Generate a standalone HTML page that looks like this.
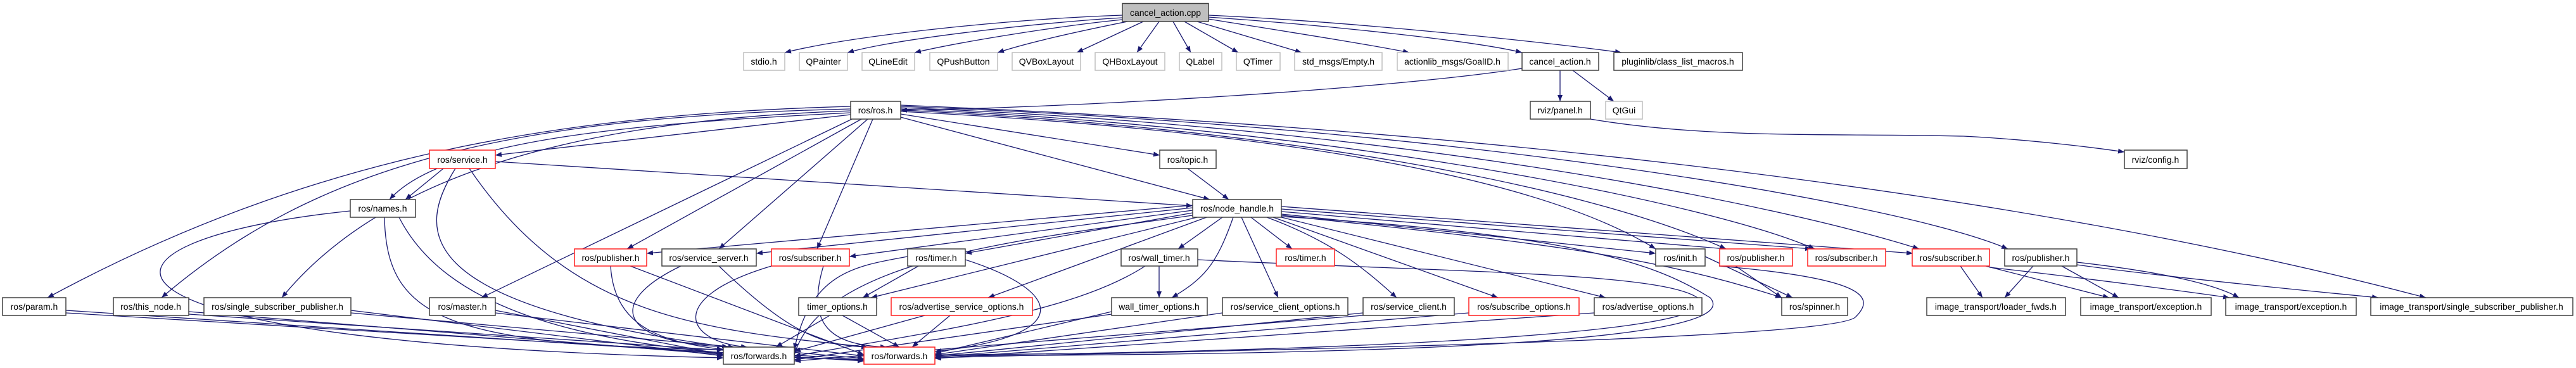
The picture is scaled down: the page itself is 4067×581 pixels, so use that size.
<!DOCTYPE html>
<html><head><meta charset="utf-8"><style>
html,body{margin:0;padding:0;background:#fff;}
svg{display:block;}
text{font-family:"Liberation Sans",sans-serif;font-size:14px;fill:#000;text-anchor:middle;}
.k{fill:#fff;stroke:#404040;stroke-width:1.5}
.g{fill:#fff;stroke:#bfbfbf;stroke-width:1.5}
.r{fill:#fff;stroke:#ff2020;stroke-width:1.5}
.e path{fill:none;stroke:#191970;stroke-width:1.3;marker-end:url(#a)}
</style></head><body>
<svg width="4067" height="581" viewBox="0 0 4067 581" xmlns="http://www.w3.org/2000/svg">
<defs><marker id="a" viewBox="0 0 10 8" refX="10" refY="4" markerWidth="10" markerHeight="8" markerUnits="userSpaceOnUse" orient="auto"><path d="M0,0 L10,4 L0,8 z" fill="#191970"/></marker></defs>
<g class="e">
<!-- cancel_action.cpp -->
<path d="M1772,24 C1600,30 1350,55 1239,83"/>
<path d="M1772,28 C1650,35 1420,60 1338,83"/>
<path d="M1772,31 C1680,40 1520,65 1444,83"/>
<path d="M1780,34 C1700,50 1620,68 1575,83"/>
<path d="M1805,34 L1700,83"/>
<path d="M1830,34 L1795,83"/>
<path d="M1852,34 L1880,83"/>
<path d="M1870,34 L1955,83"/>
<path d="M1890,34 L2055,83"/>
<path d="M1908,30 C2000,45 2150,68 2225,83"/>
<path d="M1908,27 C2100,40 2330,65 2403,83"/>
<path d="M1908,24 C2150,35 2450,68 2560,83"/>
<!-- cancel_action.h -->
<path d="M2403,108 C2200,140 1700,170 1422,174"/>
<path d="M2463,111 L2463,160"/>
<path d="M2483,111 L2548,160"/>
<path d="M2511,188 C2700,220 2900,210 3100,215 C3200,220 3300,232 3354,240"/>
<!-- ros/ros.h -->
<path d="M1343,168 C900,180 500,240 75,470"/>
<path d="M1343,172 C800,185 500,260 255,470"/>
<path d="M1343,175 C900,190 600,280 445,470"/>
<path d="M1343,178 C1000,195 700,220 615,315"/>
<path d="M1343,181 L782,245"/>
<path d="M1345,188 L760,470"/>
<path d="M1360,188 L990,393"/>
<path d="M1370,188 L1135,393"/>
<path d="M1378,188 L1290,393"/>
<path d="M1422,180 L1831,245"/>
<path d="M1422,185 L1910,315"/>
<path d="M1422,176 C1900,200 2400,260 2614,393"/>
<path d="M1422,174 C2000,200 2500,290 2725,393"/>
<path d="M1422,172 C2100,200 2700,320 2865,393"/>
<path d="M1422,170 C2200,200 2800,320 3030,393"/>
<path d="M1422,168 C2300,200 3000,320 3170,393"/>
<path d="M1422,166 C2500,210 3300,330 3830,470"/>
<!-- ros/service.h -->
<path d="M700,266 L640,315"/>
<path d="M782,255 L1883,325"/>
<path d="M719,266 C660,360 640,480 1150,548"/>
<path d="M741,266 C900,500 1100,520 1370,548"/>
<!-- names.h -->
<path d="M553,333 C100,380 60,540 1142,565"/>
<path d="M607,343 C610,500 700,545 1142,552"/>
<path d="M630,343 C700,480 900,560 1364,568"/>
<path d="M1875,266 L1940,315"/>
<!-- node_handle -->
<path d="M1883,324 L1021,400"/>
<path d="M1883,328 L1194,400"/>
<path d="M1883,332 L1341,405"/>
<path d="M1883,336 L1524,400"/>
<path d="M1890,343 L1375,470"/>
<path d="M1905,343 L1560,470"/>
<path d="M1930,343 L1860,393"/>
<path d="M1947,343 C1920,420 1900,440 1850,470"/>
<path d="M1975,343 L2040,393"/>
<path d="M1960,343 L2018,470"/>
<path d="M2000,343 C2100,380 2150,420 2205,470"/>
<path d="M2010,343 L2365,470"/>
<path d="M2023,343 L2535,470"/>
<path d="M2023,338 L2614,400"/>
<path d="M2023,334 L2725,393"/>
<path d="M2023,330 L2860,393"/>
<path d="M2023,326 L3020,400"/>
<path d="M2023,340 C2400,380 2600,400 2813,470"/>
<path d="M1883,340 C1600,380 1300,410 1254,560"/>
<path d="M2023,342 C2500,370 2620,420 2700,470 C2780,560 1800,560 1476,562"/>
<!-- row6 -->
<path d="M964,420 C970,520 1050,540 1142,552"/>
<path d="M995,420 L1364,560"/>
<path d="M1075,420 C950,480 980,545 1160,548"/>
<path d="M1135,420 C1250,530 1300,545 1370,548"/>
<path d="M1218,420 C1050,470 1080,540 1180,548"/>
<path d="M1300,420 C1270,520 1320,545 1400,548"/>
<path d="M1450,420 L1362,470"/>
<path d="M1433,405 C1350,420 1280,430 1254,552"/>
<path d="M1524,410 C1680,460 1700,530 1476,555"/>
<path d="M1830,420 L1830,470"/>
<path d="M1808,420 C1700,490 1500,520 1254,562"/>
<path d="M1891,410 C2300,430 2620,430 2680,470 C2760,540 1800,560 1476,560"/>
<path d="M2692,405 L2830,470"/>
<path d="M2714,420 C2950,440 2960,470 2930,500 C2900,540 1800,555 1476,565"/>
<path d="M2740,420 L2813,470"/>
<!-- subscriber / publisher to image_transport -->
<path d="M3095,420 L3130,470"/>
<path d="M3135,420 L3330,470"/>
<path d="M3141,422 C3300,440 3450,460 3520,470"/>
<path d="M3210,420 L3165,470"/>
<path d="M3255,420 L3345,470"/>
<path d="M3279,418 C3400,435 3600,455 3755,470"/>
<path d="M3279,414 C3420,430 3500,450 3535,470"/>
<!-- row7 to forwards -->
<path d="M104,490 L1142,558"/>
<path d="M104,494 L1364,570"/>
<path d="M298,492 L1142,560"/>
<path d="M298,496 L1364,568"/>
<path d="M554,490 L1142,562"/>
<path d="M554,494 L1364,566"/>
<path d="M782,490 L1142,560"/>
<path d="M782,494 L1364,562"/>
<path d="M1310,498 L1225,548"/>
<path d="M1330,498 L1420,548"/>
<path d="M1460,498 L1254,555"/>
<path d="M1500,498 L1440,548"/>
<path d="M1755,492 L1476,558"/>
<path d="M1755,496 L1254,568"/>
<path d="M1930,494 L1476,560"/>
<path d="M2152,494 L1476,562"/>
<path d="M2319,494 L1476,564"/>
<path d="M2517,494 L1476,566"/>
<path d="M2152,498 L1254,570"/>
</g>
<!-- nodes -->
<g>
<rect x="1772" y="5.5" width="136" height="28.5" fill="#bfbfbf" stroke="#404040" stroke-width="1.5"/><text x="1840" y="25">cancel_action.cpp</text>
<rect class="g" x="1174" y="83" width="65" height="28"/><text x="1206" y="102">stdio.h</text>
<rect class="g" x="1262" y="83" width="76" height="28"/><text x="1300" y="102">QPainter</text>
<rect class="g" x="1361" y="83" width="83" height="28"/><text x="1402" y="102">QLineEdit</text>
<rect class="g" x="1468" y="83" width="107" height="28"/><text x="1521" y="102">QPushButton</text>
<rect class="g" x="1598" y="83" width="108" height="28"/><text x="1652" y="102">QVBoxLayout</text>
<rect class="g" x="1729" y="83" width="110" height="28"/><text x="1784" y="102">QHBoxLayout</text>
<rect class="g" x="1862" y="83" width="67" height="28"/><text x="1895" y="102">QLabel</text>
<rect class="g" x="1952" y="83" width="69" height="28"/><text x="1986" y="102">QTimer</text>
<rect class="g" x="2044" y="83" width="138" height="28"/><text x="2113" y="102">std_msgs/Empty.h</text>
<rect class="g" x="2206" y="83" width="175" height="28"/><text x="2293" y="102">actionlib_msgs/GoalID.h</text>
<rect class="k" x="2403" y="83" width="121" height="28"/><text x="2463" y="102">cancel_action.h</text>
<rect class="k" x="2548" y="83" width="203" height="28"/><text x="2649" y="102">pluginlib/class_list_macros.h</text>
<rect class="k" x="1343" y="160" width="79" height="28"/><text x="1382" y="179">ros/ros.h</text>
<rect class="k" x="2416" y="160" width="95" height="28"/><text x="2463" y="179">rviz/panel.h</text>
<rect class="g" x="2535" y="160" width="58" height="28"/><text x="2564" y="179">QtGui</text>
<rect class="r" x="678" y="237" width="104" height="29"/><text x="730" y="257">ros/service.h</text>
<rect class="k" x="1831" y="237" width="89" height="29"/><text x="1875" y="257">ros/topic.h</text>
<rect class="k" x="3354" y="237" width="99" height="29"/><text x="3403" y="257">rviz/config.h</text>
<rect class="k" x="553" y="315" width="103" height="28"/><text x="604" y="334">ros/names.h</text>
<rect class="k" x="1883" y="315" width="140" height="28"/><text x="1953" y="334">ros/node_handle.h</text>
<rect class="r" x="907" y="393" width="114" height="27"/><text x="964" y="412">ros/publisher.h</text>
<rect class="k" x="1045" y="393" width="149" height="27"/><text x="1119" y="412">ros/service_server.h</text>
<rect class="r" x="1218" y="393" width="123" height="27"/><text x="1279" y="412">ros/subscriber.h</text>
<rect class="k" x="1433" y="393" width="91" height="27"/><text x="1478" y="412">ros/timer.h</text>
<rect class="k" x="1770" y="393" width="121" height="27"/><text x="1830" y="412">ros/wall_timer.h</text>
<rect class="r" x="2015" y="393" width="92" height="27"/><text x="2061" y="412">ros/timer.h</text>
<rect class="k" x="2614" y="393" width="78" height="27"/><text x="2653" y="412">ros/init.h</text>
<rect class="r" x="2715" y="393" width="115" height="27"/><text x="2772" y="412">ros/publisher.h</text>
<rect class="r" x="2854" y="393" width="123" height="27"/><text x="2915" y="412">ros/subscriber.h</text>
<rect class="r" x="3019" y="393" width="122" height="27"/><text x="3080" y="412">ros/subscriber.h</text>
<rect class="k" x="3165" y="393" width="114" height="27"/><text x="3222" y="412">ros/publisher.h</text>
<rect class="k" x="4" y="470" width="100" height="28"/><text x="54" y="489">ros/param.h</text>
<rect class="k" x="179" y="470" width="119" height="28"/><text x="238" y="489">ros/this_node.h</text>
<rect class="k" x="322" y="470" width="232" height="28"/><text x="438" y="489">ros/single_subscriber_publisher.h</text>
<rect class="k" x="678" y="470" width="104" height="28"/><text x="730" y="489">ros/master.h</text>
<rect class="k" x="1261" y="470" width="123" height="28"/><text x="1322" y="489">timer_options.h</text>
<rect class="r" x="1407" y="470" width="223" height="28"/><text x="1518" y="489">ros/advertise_service_options.h</text>
<rect class="k" x="1755" y="470" width="151" height="28"/><text x="1830" y="489">wall_timer_options.h</text>
<rect class="k" x="1930" y="470" width="198" height="28"/><text x="2029" y="489">ros/service_client_options.h</text>
<rect class="k" x="2152" y="470" width="144" height="28"/><text x="2224" y="489">ros/service_client.h</text>
<rect class="r" x="2319" y="470" width="174" height="28"/><text x="2406" y="489">ros/subscribe_options.h</text>
<rect class="k" x="2517" y="470" width="170" height="28"/><text x="2602" y="489">ros/advertise_options.h</text>
<rect class="k" x="2813" y="470" width="104" height="28"/><text x="2865" y="489">ros/spinner.h</text>
<rect class="k" x="3042" y="470" width="219" height="28"/><text x="3151" y="489">image_transport/loader_fwds.h</text>
<rect class="k" x="3285" y="470" width="206" height="28"/><text x="3388" y="489">image_transport/exception.h</text>
<rect class="k" x="3514" y="470" width="206" height="28"/><text x="3617" y="489">image_transport/exception.h</text>
<rect class="k" x="3743" y="470" width="319" height="28"/><text x="3902" y="489">image_transport/single_subscriber_publisher.h</text>
<rect class="k" x="1142" y="548" width="112" height="27"/><text x="1198" y="567">ros/forwards.h</text>
<rect class="r" x="1364" y="548" width="112" height="27"/><text x="1420" y="567">ros/forwards.h</text>
</g>
</svg>
</body></html>
